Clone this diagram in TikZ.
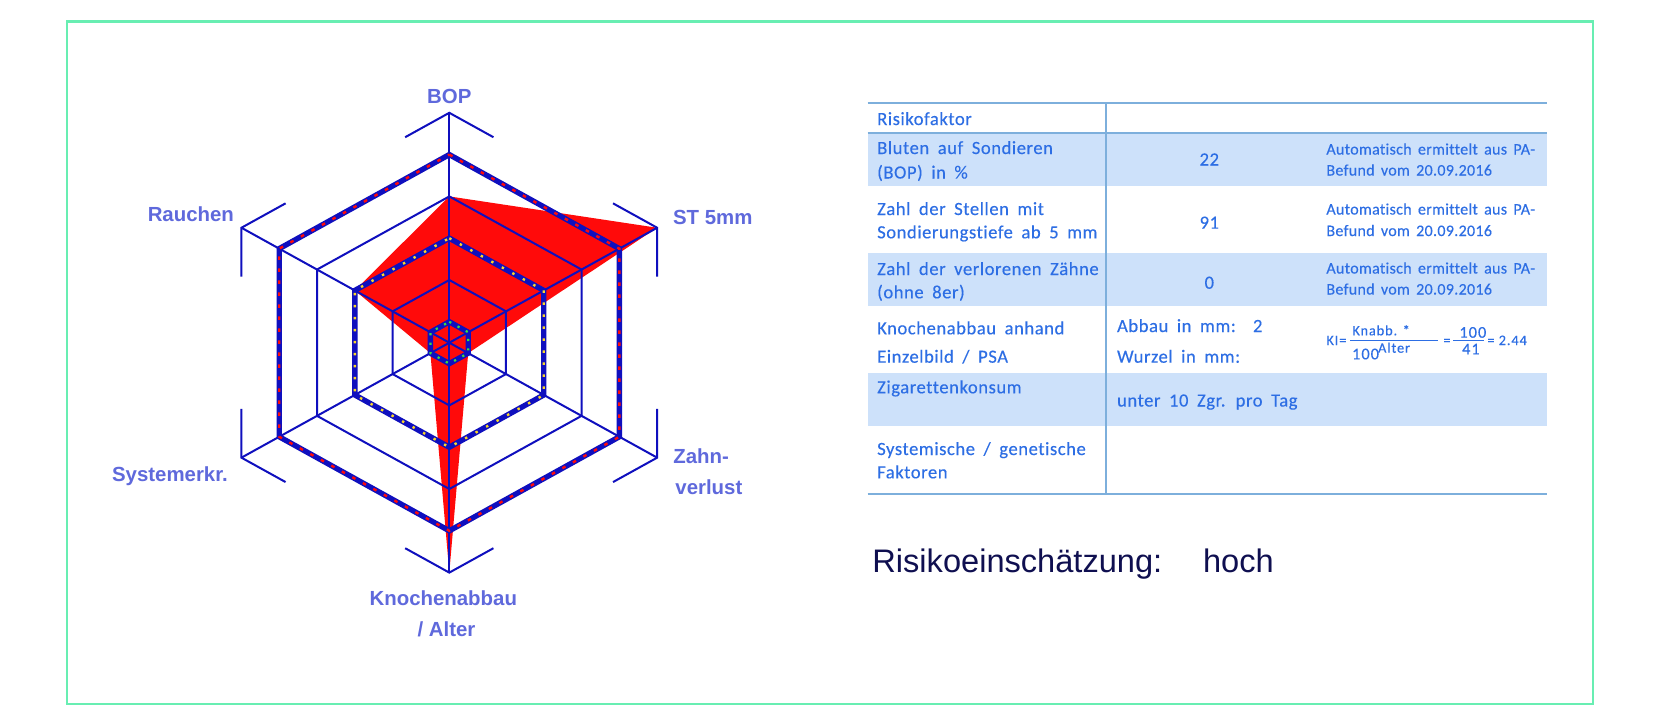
\documentclass[tikz,border=0pt]{standalone}
\usepackage{fontspec}
\setmainfont{Liberation Sans}
\newfontfamily\lblfont{Liberation Sans}
\newfontfamily\tabfont[LetterSpace=3,WordSpace=1.8,Ligatures=NoCommon,FakeBold=0.3]{Carlito}
\newfontfamily\tabsmallfont[LetterSpace=2,WordSpace=1.6,Ligatures=NoCommon,FakeBold=0.3]{Carlito}
\newfontfamily\fmlfont[LetterSpace=6,Ligatures=NoCommon,FakeBold=0.2]{Carlito}
\usetikzlibrary{calc}
\definecolor{framegreen}{RGB}{104,238,178}
\definecolor{gridblue}{RGB}{15,15,190}
\definecolor{datared}{RGB}{255,10,10}
\definecolor{dotyellow}{RGB}{250,215,40}
\definecolor{dotgreen}{RGB}{60,220,60}
\definecolor{lblblue}{RGB}{95,105,220}
\definecolor{tabblue}{RGB}{45,110,228}
\definecolor{tabline}{RGB}{125,175,220}
\definecolor{rowfill}{RGB}{205,225,250}
\definecolor{navy}{RGB}{15,15,80}
\begin{document}
\begin{tikzpicture}[x=0.5pt,y=-0.5pt,
  thinblue/.style={draw=gridblue,line width=1pt},
  thickblue/.style={draw=gridblue,line width=2.7pt},
  reddash/.style={draw=datared,line width=1.2pt,dash pattern=on 1.8pt off 4.2pt},
  yellowdot/.style={draw=dotyellow,line width=1.2pt,dash pattern=on 1.2pt off 4.8pt},
  greendot/.style={draw=dotgreen,line width=1.1pt,dash pattern=on 1.1pt off 3.6pt},
  lbl/.style={font=\lblfont\bfseries\fontsize{10.2}{12}\selectfont,text=lblblue,inner sep=0pt},
  tabtxt/.style={font=\tabfont\fontsize{9.3}{11}\selectfont,text=tabblue,inner sep=0pt,anchor=base west},
  tabsmall/.style={font=\tabsmallfont\fontsize{8}{10}\selectfont,text=tabblue,inner sep=0pt,anchor=base west},
  fml/.style={font=\fmlfont\fontsize{7.2}{9}\selectfont,text=tabblue,inner sep=0pt},
  fmlbig/.style={font=\fmlfont\fontsize{8.2}{10}\selectfont,text=tabblue,inner sep=0pt},
  risk/.style={font=\fontsize{16.3}{19}\selectfont,text=navy,inner sep=0pt,anchor=base west}]
\useasboundingbox (0,0) rectangle (1654,723);
\fill[white] (0,0) rectangle (1654,723);
\draw[framegreen,line width=1.2pt] (67,21.3) rectangle (1593,704);

% ---------------- radar chart ----------------
\begin{scope}[shift={(449.3,342.7)},x=0.522pt,y=0.5pt]
  \fill[datared] (90:146.3) -- (30:229.9) -- (-30:20.9) -- (-90:229.9) -- (210:20.9) -- (150:104.5) -- cycle;
  \foreach \r in {62.7,146.3}
    \draw[thinblue] (90:\r) -- (30:\r) -- (-30:\r) -- (-90:\r) -- (-150:\r) -- (150:\r) -- cycle;
  \foreach \a in {90,30,-30,-90,-150,150} {
    \draw[thinblue] (0,0) -- (\a:229.9);
    \draw[thinblue] ($(\a:229.9)+(\a+120:48.8)$) -- (\a:229.9) -- ($(\a:229.9)+(\a-120:48.8)$);
  }
  \foreach \r/\st in {20.9/greendot,104.5/yellowdot,188.1/reddash} {
    \draw[thickblue] (90:\r) -- (30:\r) -- (-30:\r) -- (-90:\r) -- (-150:\r) -- (150:\r) -- cycle;
    \draw[\st] (90:\r) -- (30:\r) -- (-30:\r) -- (-90:\r) -- (-150:\r) -- (150:\r) -- cycle;
  }
\end{scope}

\node[lbl,anchor=base] (bop) at (449.3,103.3) {BOP};
\node[lbl,anchor=base west] (st) at (672.7,224.3) {ST 5mm};
\node[lbl,anchor=base west] (zahn1) at (673,463.3) {Zahn-};
\node[lbl,anchor=base west] (zahn2) at (675,494.5) {verlust};
\node[lbl,anchor=base] (kn1) at (443.3,605) {Knochenabbau};
\node[lbl,anchor=base] (kn2) at (446.5,636) {/ Alter};
\node[lbl,anchor=base west] (sys) at (111.7,481.7) {Systemerkr.};
\node[lbl,anchor=base east] (rau) at (234.3,221.7) {Rauchen};

% ---------------- table ----------------
\fill[rowfill] (867.6,132.7) rectangle (1547,186);
\fill[rowfill] (867.6,253.3) rectangle (1547,306);
\fill[rowfill] (867.6,372.7) rectangle (1547,425.7);
\draw[tabline,line width=1pt] (867.6,102.7) -- (1547,102.7);
\draw[tabline,line width=0.8pt] (867.6,132.7) -- (1547,132.7);
\draw[tabline,line width=1pt] (867.6,494) -- (1547,494);
\draw[tabline,line width=1pt] (1106.2,102.7) -- (1106.2,494);

\node[tabtxt] (h) at (876.8,125) {Risikofaktor};
\node[tabtxt] (r1a) at (876.8,154) {Bluten auf Sondieren};
\node[tabtxt] (r1b) at (876.8,178.5) {(BOP) in \%};
\node[tabtxt] (r2a) at (876.8,215) {Zahl der Stellen mit};
\node[tabtxt] (r2b) at (876.8,238.3) {Sondierungstiefe ab 5 mm};
\node[tabtxt] (r3a) at (876.8,275) {Zahl der verlorenen Zähne};
\node[tabtxt] (r3b) at (876.8,298.3) {(ohne 8er)};
\node[tabtxt] (r4a) at (876.8,334.3) {Knochenabbau anhand};
\node[tabtxt] (r4b) at (876.8,362.7) {Einzelbild / PSA};
\node[tabtxt] (r5a) at (876.8,393.3) {Zigarettenkonsum};
\node[tabtxt] (r6a) at (876.8,455) {Systemische / genetische};
\node[tabtxt] (r6b) at (876.8,478.3) {Faktoren};

\node[tabtxt,anchor=base] (v1) at (1209.3,165.5) {22};
\node[tabtxt,anchor=base] (v2) at (1209.3,228.7) {91};
\node[tabtxt,anchor=base] (v3) at (1209.3,288.7) {0};
\node[tabtxt] (v4a) at (1116.7,332) {Abbau in mm:~~2};
\node[tabtxt] (v4b) at (1116.7,362.7) {Wurzel in mm:};
\node[tabtxt] (v5) at (1116.7,406.5) {unter 10 Zgr. pro Tag};

\node[tabsmall] (c1a) at (1326,154.5) {Automatisch ermittelt aus PA-};
\node[tabsmall] (c1b) at (1326,175.5) {Befund vom 20.09.2016};
\node[tabsmall] (c2a) at (1326,214.5) {Automatisch ermittelt aus PA-};
\node[tabsmall] (c2b) at (1326,236) {Befund vom 20.09.2016};
\node[tabsmall] (c3a) at (1326,273.5) {Automatisch ermittelt aus PA-};
\node[tabsmall] (c3b) at (1326,294.5) {Befund vom 20.09.2016};

% formula
\node[fml,anchor=base west] (ki) at (1326,345) {KI=};
\node[fml,anchor=base west] (num1) at (1352,335.3) {Knabb. *};
\node[fmlbig,anchor=base west] (den1) at (1351.7,359.3) {100};
\node[fml,anchor=base west] (den1b) at (1377.7,352.7) {Alter};
\draw[tabblue,line width=0.5pt] (1350,340.3) -- (1438,340.3);
\node[fml,anchor=base west] (eq1) at (1443,345) {=};
\node[fmlbig,anchor=base west] (num2) at (1459,337.7) {100};
\node[fmlbig,anchor=base west] (den2) at (1461.7,354.3) {41};
\draw[tabblue,line width=0.5pt] (1453,340.3) -- (1484,340.3);
\node[fml,anchor=base west] (res) at (1487,345) {= 2.44};

% risk assessment
\node[risk] (risk) at (872,572.7) {Risikoeinschätzung:};
\node[risk] (hoch) at (1202.7,572.7) {hoch};
\end{tikzpicture}
\end{document}
